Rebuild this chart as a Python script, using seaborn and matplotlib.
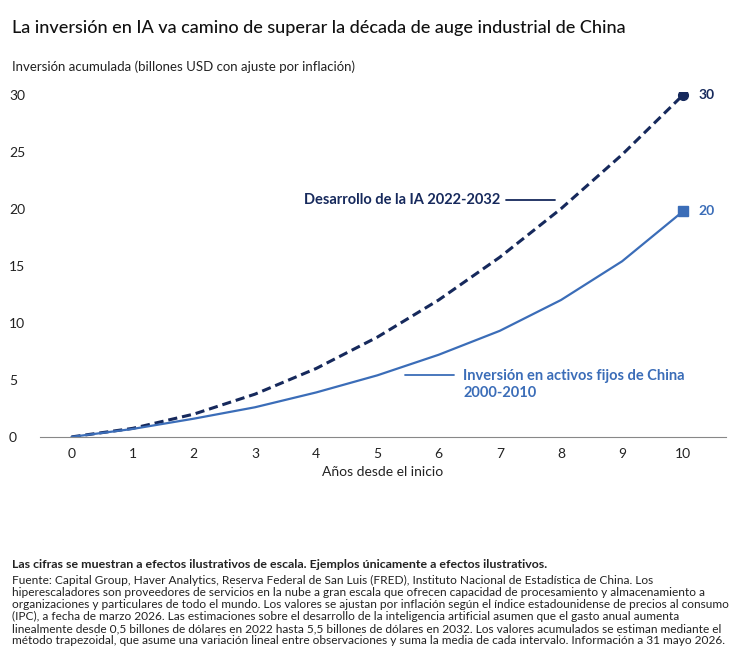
import matplotlib
matplotlib.use("Agg")
import matplotlib.pyplot as plt
import seaborn as sns
import pandas as pd

years = [0, 1, 2, 3, 4, 5, 6, 7, 8, 9, 10]
ia_values = [0, 0.75, 2.0, 3.75, 6.0, 8.75, 12.0, 15.75, 20.0, 24.75, 30.0]
china_values = [0, 0.7, 1.6, 2.6, 3.9, 5.4, 7.2, 9.3, 12.0, 15.4, 19.8]
yticks = [0, 5, 10, 15, 20, 25, 30]

navy = "#16295c"
blue = "#3b6db8"

sns.set_style("white")
plt.rcParams['font.family'] = ['Lato', 'DejaVu Sans']

df = pd.DataFrame({"year": years, "ia": ia_values, "china": china_values})

fig = plt.figure(figsize=(7.48, 6.6), dpi=100)
ax = fig.add_axes([0.053, 0.338, 0.917, 0.522])

sns.lineplot(data=df, x="year", y="ia", ax=ax, color=navy, lw=2.2, linestyle=(0, (3, 1.6)))
sns.lineplot(data=df, x="year", y="china", ax=ax, color=blue, lw=1.6)
ax.plot(years[-1], ia_values[-1], "o", color=navy, ms=7)
ax.plot(years[-1], china_values[-1], "s", color=blue, ms=7)
ax.text(10.25, ia_values[-1], "30", color=navy, fontsize=10, fontweight="bold", va="center")
ax.text(10.25, china_values[-1], "20", color=blue, fontsize=10, fontweight="bold", va="center")

ax.set_xlim(-0.52, 10.69)
ax.set_ylim(0, 30.2)
ax.set_xticks(years)
ax.set_yticks(yticks)
ax.tick_params(axis="both", labelsize=10, colors="#222222", length=0)
ax.tick_params(axis="x", pad=8)
ax.tick_params(axis="y", pad=22)
for lbl in ax.get_yticklabels():
    lbl.set_horizontalalignment("left")
for s in ["top", "right", "left"]:
    ax.spines[s].set_visible(False)
ax.spines["bottom"].set_color("#888888")
ax.set_xlabel("Años desde el inicio", fontsize=10, color="#222222", labelpad=4)
ax.set_ylabel("")

ax.plot([7.1, 7.9], [20.8, 20.8], color=navy, lw=1.3)
ax.text(7.0, 20.8, "Desarrollo de la IA 2022-2032", fontsize=10.5,
        fontweight="bold", color=navy, ha="right", va="center")
ax.plot([5.45, 6.25], [5.4, 5.4], color=blue, lw=1.3)
ax.text(6.4, 4.6, "Inversión en activos fijos de China\n2000-2010", fontsize=10.5,
        fontweight="bold", color=blue, ha="left", va="center", linespacing=1.2)

fig.text(0.016, 0.95, "La inversión en IA va camino de superar la década de auge industrial de China",
         fontsize=13, color="#111111", fontweight="medium")
fig.text(0.016, 0.893, "Inversión acumulada (billones USD con ajuste por inflación)", fontsize=9.5, color="#222222")

fig.text(0.016, 0.14, "Las cifras se muestran a efectos ilustrativos de escala. Ejemplos únicamente a efectos ilustrativos.",
         fontsize=8.9, fontweight="bold", color="#222222")
foot = ("Fuente: Capital Group, Haver Analytics, Reserva Federal de San Luis (FRED), Instituto Nacional de Estadística de China. Los\n"
        "hiperescaladores son proveedores de servicios en la nube a gran escala que ofrecen capacidad de procesamiento y almacenamiento a\n"
        "organizaciones y particulares de todo el mundo. Los valores se ajustan por inflación según el índice estadounidense de precios al consumo\n"
        "(IPC), a fecha de marzo 2026. Las estimaciones sobre el desarrollo de la inteligencia artificial asumen que el gasto anual aumenta\n"
        "linealmente desde 0,5 billones de dólares en 2022 hasta 5,5 billones de dólares en 2032. Los valores acumulados se estiman mediante el\n"
        "método trapezoidal, que asume una variación lineal entre observaciones y suma la media de cada intervalo. Información a 31 mayo 2026.")
fig.text(0.016, 0.129, foot, fontsize=8.6, color="#222222", va="top", linespacing=1.12)

fig.savefig("out.png", dpi=100)
